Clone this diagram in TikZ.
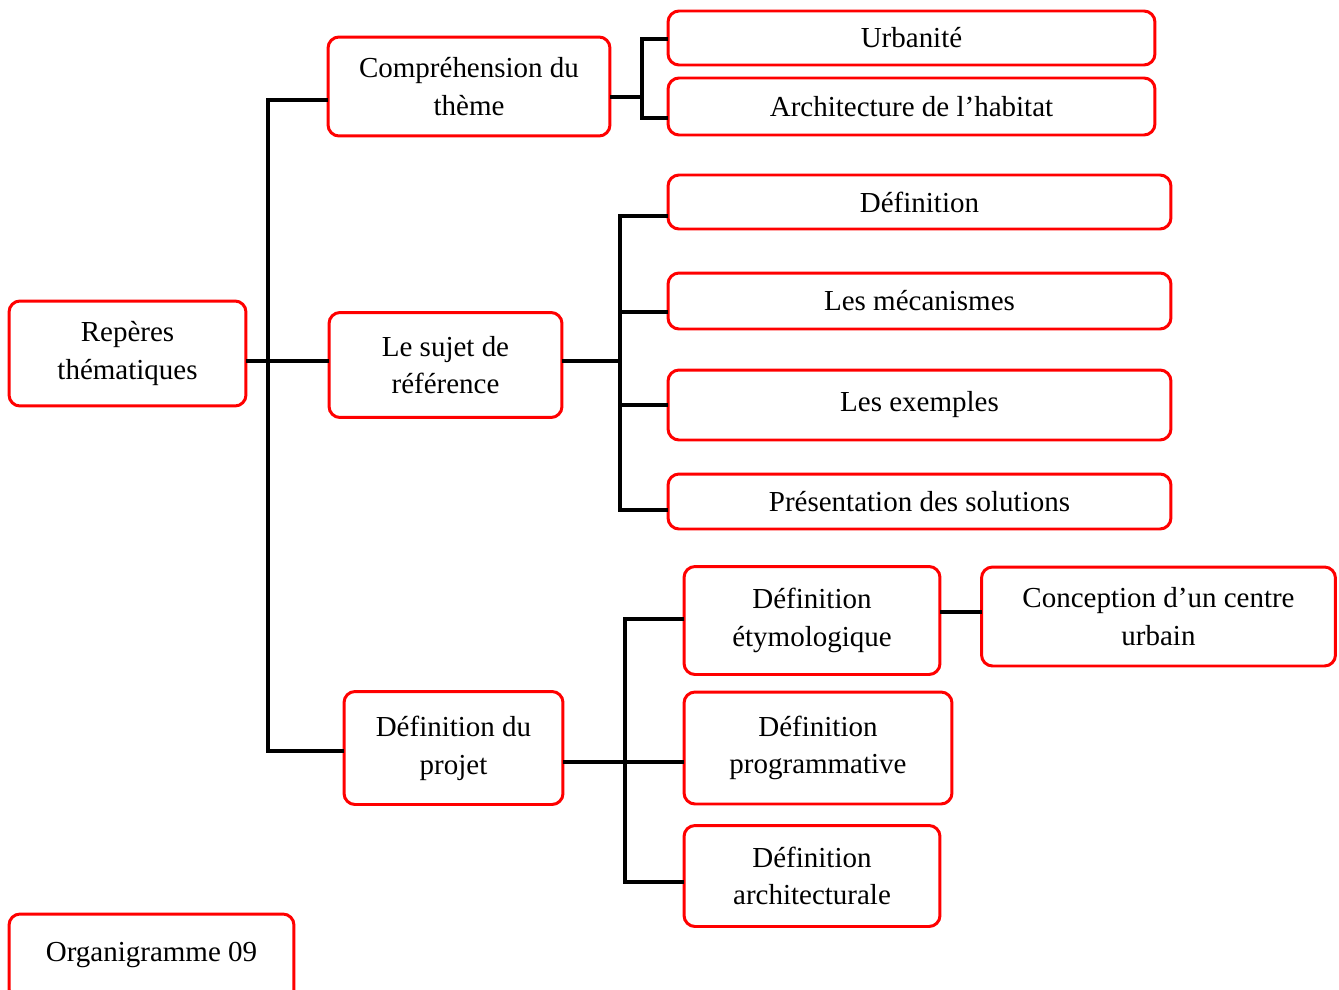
\documentclass[tikz,border=0pt]{standalone}
\usepackage{fontspec}
\setmainfont{Liberation Serif}
\usepackage{xcolor}
\usetikzlibrary{positioning}
\definecolor{boxred}{HTML}{FF0000}

\begin{document}
\begin{tikzpicture}[
  x=0.02cm, y=-0.02cm,
  every node/.style={align=center},
  box/.style={draw=boxred, line width=1.7pt, rounded corners=0.22cm,
    fill=white, font=\fontsize{16.5}{21.5}\selectfont, inner sep=0pt},
  link/.style={line width=2.2pt, black, line cap=rect}
]

% Frame of the page
\useasboundingbox (0,0) rectangle (1339,990);
\clip (0,0) rectangle (1339,990);

% Root
\node[box, minimum width=4.74cm, minimum height=2.1cm]
  (reperes) at (127.5,353.5) {Rep\`eres\\th\'ematiques};

% Second level
\node[box, minimum width=5.64cm, minimum height=1.98cm]
  (compr) at (469,86.5) {Compr\'ehension du\\th\`eme};
\node[box, minimum width=4.66cm, minimum height=2.1cm]
  (sujet) at (445.5,365) {Le sujet de\\r\'ef\'erence};
\node[box, minimum width=4.38cm, minimum height=2.26cm]
  (projet) at (453.5,748) {D\'efinition du\\projet};

% Third level: theme
\node[box, minimum width=9.74cm, minimum height=1.08cm]
  (urban) at (911.5,38) {\raisebox{-0.07cm}{Urbanit\'e}};
\node[box, minimum width=9.74cm, minimum height=1.14cm]
  (habitat) at (911.5,106.5) {\raisebox{-0.04cm}{Architecture de l’habitat}};

% Third level: subject
\node[box, minimum width=10.06cm, minimum height=1.08cm]
  (defin) at (919.5,202) {\raisebox{-0.07cm}{D\'efinition}};
\node[box, minimum width=10.06cm, minimum height=1.12cm]
  (meca) at (919.5,301) {\raisebox{-0.07cm}{Les m\'ecanismes}};
\node[box, minimum width=10.06cm, minimum height=1.4cm]
  (exemp) at (919.5,405) {Les exemples};
\node[box, minimum width=10.06cm, minimum height=1.1cm]
  (solut) at (919.5,501.5) {\raisebox{-0.07cm}{Pr\'esentation des solutions}};

% Third level: project
\node[box, minimum width=5.12cm, minimum height=2.16cm]
  (etym) at (812,620.5) {D\'efinition\\\'etymologique};
\node[box, minimum width=5.36cm, minimum height=2.24cm]
  (progr) at (818,748) {D\'efinition\\programmative};
\node[box, minimum width=5.12cm, minimum height=2.02cm]
  (archit) at (812,876) {D\'efinition\\architecturale};
\node[box, minimum width=7.08cm, minimum height=1.98cm]
  (centre) at (1158.5,616.5) {Conception d’un centre\\urbain};

% Caption box, cut by the page edge
\node[box, minimum width=5.7cm, minimum height=1.72cm]
  (organi) at (151.5,957) {\raisebox{0.2cm}{Organigramme 09}};

% Main bus
\coordinate (m1) at (268,100);
\coordinate (m2) at (268,751);
\coordinate (m0) at (268,361);
\draw[link] (compr.west |- m1) -- (m1) -- (m2) -- (projet.west |- m2);
\draw[link] (reperes.east |- m0) -- (sujet.west |- m0);

% Theme bus
\coordinate (t1) at (642,39);
\coordinate (t2) at (642,118);
\coordinate (t0) at (642,97);
\draw[link] (urban.west |- t1) -- (t1) -- (t2) -- (habitat.west |- t2);
\draw[link] (compr.east |- t0) -- (t0);

% Subject bus
\coordinate (s1) at (620,216);
\coordinate (s2) at (620,510);
\coordinate (s0) at (620,361);
\draw[link] (defin.west |- s1) -- (s1) -- (s2) -- (solut.west |- s2);
\draw[link] (sujet.east |- s0) -- (s0);
\draw[link] (meca.west |- 0,312) -- (s1 |- 0,312);
\draw[link] (exemp.west |- 0,405) -- (s1 |- 0,405);

% Project bus
\coordinate (p1) at (625,619);
\coordinate (p2) at (625,882);
\draw[link] (etym.west |- p1) -- (p1) -- (p2) -- (archit.west |- p2);
\draw[link] (projet.east |- 0,762) -- (progr.west |- 0,762);

% Etymology link
\draw[link] (etym.east |- 0,612) -- (centre.west |- 0,612);

\end{tikzpicture}
\end{document}
